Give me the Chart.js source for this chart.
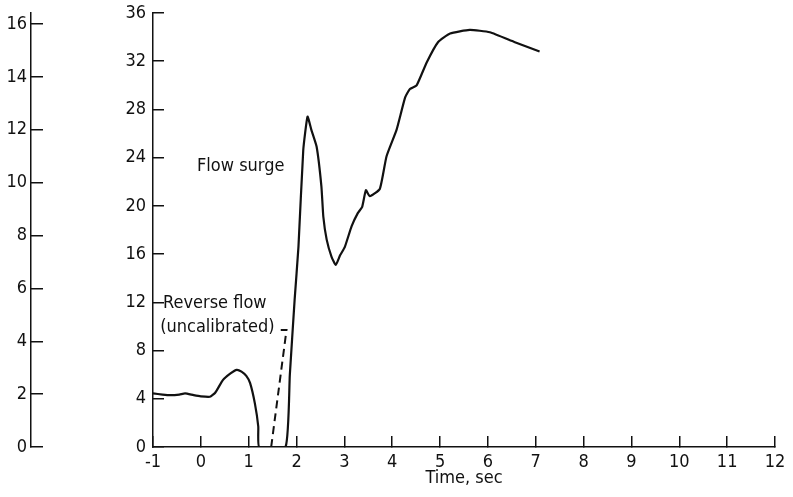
<!DOCTYPE html>
<html>
<head>
<meta charset="utf-8">
<title>Flow surge</title>
<script src="https://cdn.jsdelivr.net/npm/chart.js"></script>
<style>
  body { margin: 0; background: #fff; }
  canvas { display: block; }
</style>
</head>
<body>
<canvas id="chart" width="793" height="497"></canvas>
<script>

    // solid trace
    const timeSolid = [-1, -0.8, -0.64, -0.45, -0.33, -0.15, 0, 0.19, 0.3, 0.46, 0.62, 0.75, 0.85, 0.95, 1.03, 1.13, 1.2, 1.22,
        1.77, 1.86, 1.96, 2.04, 2.14, 2.23, 2.31, 2.42, 2.52, 2.56, 2.63, 2.73, 2.82, 2.91, 3.01, 3.15, 3.28, 3.37, 3.45, 3.53,
        3.74, 3.88, 4.09, 4.27, 4.37, 4.51, 4.72, 4.96, 5.21, 5.62, 6.04, 6.55, 7.08]
    const flowSolid = [4.45, 4.35, 4.3, 4.35, 4.45, 4.3, 4.2, 4.17, 4.5, 5.55, 6.1, 6.4, 6.25, 5.9, 5.3, 3.6, 1.7, 0,
        0, 6, 12.2, 16.6, 24.6, 27.4, 26.3, 24.9, 21.6, 19.1, 17.2, 15.8, 15.1, 15.9, 16.6, 18.3, 19.4, 19.9, 21.3, 20.8,
        21.4, 24.1, 26.3, 29.0, 29.7, 30.0, 31.9, 33.6, 34.3, 34.6, 34.4, 33.6, 32.8]

    // dashed reverse flow trace
    const timeDashed = [1.47, 1.79, 1.67]
    const flowDashed = [0, 9.7, 9.7]

    const timeTicks = [-1, 0, 1, 2, 3, 4, 5, 6, 7, 8, 9, 10, 11, 12]
    const flowTicks = [0, 4, 8, 12, 16, 20, 24, 28, 32, 36]
    const leftTicks = [0, 2, 4, 6, 8, 10, 12, 14, 16]

    const noteText = ['Flow surge', 'Reverse flow', '(uncalibrated)']
    const noteTime = [-0.08, -0.79, -0.85]
    const noteFlow = [23.3, 11.9, 9.95]

    const FONT = '"Liberation Sans Narrow", "DejaVu Sans Condensed", "Roboto", sans-serif'
    Chart.defaults.font.family = FONT
    Chart.defaults.font.size = 18
    Chart.defaults.color = '#111'

    const notesPlugin = {
        id: 'notes',
        afterDraw(chart) {
            const ctx = chart.ctx
            const xs = chart.scales.x, ys = chart.scales.y
            ctx.save()
            ctx.font = '18px ' + FONT
            ctx.fillStyle = '#111'
            ctx.textAlign = 'left'
            ctx.textBaseline = 'middle'
            noteText.forEach((t, i) => {
                ctx.fillText(t, xs.getPixelForValue(noteTime[i]), ys.getPixelForValue(noteFlow[i]))
            })
            ctx.restore()
        }
    }

    const axisGrid = { drawOnChartArea: false, color: '#111', lineWidth: 1.5 }
    const axisBorder = { color: '#111', width: 1.5 }

    // fixed box sizes, no automatic label padding
    const fitY = w => s => { s.width = w; s.paddingTop = 0; s.paddingBottom = 0 }

    new Chart(document.getElementById('chart'), {
        type: 'line',
        data: {
            datasets: [
                {
                    data: timeSolid.map((t, i) => ({ x: t, y: flowSolid[i] })),
                    borderColor: '#111',
                    borderWidth: 2.2,
                    pointRadius: 0,
                    tension: 0.15,
                    yAxisID: 'y'
                },
                {
                    data: timeDashed.map((t, i) => ({ x: t, y: flowDashed[i] })),
                    borderColor: '#111',
                    borderWidth: 2,
                    borderDash: [8, 5],
                    pointRadius: 0,
                    tension: 0,
                    yAxisID: 'y'
                }
            ]
        },
        options: {
            responsive: false,
            animation: false,
            layout: { padding: { top: 13, right: 18, left: 0, bottom: 0 } },
            plugins: { legend: { display: false }, tooltip: { enabled: false } },
            scales: {
                x: {
                    type: 'linear',
                    min: -1, max: 12,
                    afterBuildTicks: s => { s.ticks = timeTicks.map(v => ({ value: v })) },
                    ticks: { padding: 16, maxRotation: 0, autoSkip: false },
                    grid: { ...axisGrid, tickLength: -11 },
                    border: axisBorder,
                    title: { display: true, text: 'Time, sec', padding: { top: 0, bottom: 8 }, font: { size: 18 } },
                    afterFit: s => { s.height = 50; s.paddingLeft = 0; s.paddingRight = 0 }
                },
                y: {
                    position: 'left',
                    weight: 0,
                    min: 0, max: 36,
                    afterBuildTicks: s => { s.ticks = flowTicks.map(v => ({ value: v })) },
                    ticks: { padding: 18 },
                    grid: { ...axisGrid, tickLength: -11 },
                    border: axisBorder,
                    afterFit: fitY(122)
                },
                y2: {
                    position: 'left',
                    weight: 10,
                    min: 0, max: 16.42,
                    afterBuildTicks: s => { s.ticks = leftTicks.map(v => ({ value: v })) },
                    ticks: { padding: 16 },
                    grid: { ...axisGrid, tickLength: -12 },
                    border: axisBorder,
                    afterFit: fitY(31)
                }
            }
        },
        plugins: [notesPlugin]
    })

</script>
</body>
</html>
